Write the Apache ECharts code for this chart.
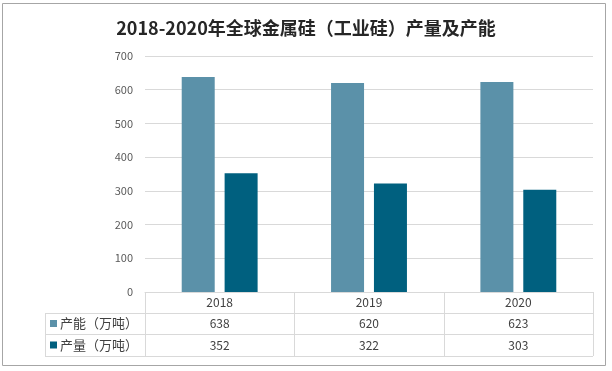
<!DOCTYPE html>
<html>
<head>
<meta charset="utf-8">
<script src="https://cdn.jsdelivr.net/npm/echarts@6/dist/echarts.min.js"></script>
<style>
html,body{margin:0;padding:0;background:#fff;}
#main{width:612px;height:371px;}
</style>
</head>
<body>
<div id="main"></div>
<script>
var titleText = '2018-2020年全球金属硅（工业硅）产量及产能';
var categories = ['2018', '2019', '2020'];
var seriesNames = ['产能（万吨）', '产量（万吨）'];
var capacity = [638, 620, 623];
var production = [352, 322, 303];
var yTicks = [0, 100, 200, 300, 400, 500, 600, 700];

var colors = ['#5B91A9', '#00607F'];
var font = '"Noto Sans CJK SC", "Noto Sans", sans-serif';
var G = {left: 145, right: 19, top: 56, bottom: 79};
var W = 612, H = 371;
var plotW = W - G.left - G.right;
var colW = plotW / categories.length;
var axisY = H - G.bottom;
var rowTops = [axisY, 313, 334, 356];
var tableLeft = 45;
var lineColor = '#d9d9d9';

var chart = echarts.init(document.getElementById('main'), null, {renderer: 'canvas'});

var graphics = [];
graphics.push({type: 'rect', shape: {x: 2.5, y: 3.5, width: 603, height: 362}, style: {fill: null, stroke: '#a6a6a6', lineWidth: 1}, silent: true});
graphics.push({type: 'line', shape: {x1: tableLeft, y1: rowTops[1] + 0.5, x2: W - G.right, y2: rowTops[1] + 0.5}, style: {stroke: lineColor, lineWidth: 1}});
graphics.push({type: 'line', shape: {x1: tableLeft, y1: rowTops[2] + 0.5, x2: W - G.right, y2: rowTops[2] + 0.5}, style: {stroke: lineColor, lineWidth: 1}});
graphics.push({type: 'line', shape: {x1: tableLeft, y1: rowTops[3] + 0.5, x2: W - G.right, y2: rowTops[3] + 0.5}, style: {stroke: lineColor, lineWidth: 1}});
graphics.push({type: 'line', shape: {x1: tableLeft + 0.5, y1: rowTops[1], x2: tableLeft + 0.5, y2: rowTops[3]}, style: {stroke: lineColor, lineWidth: 1}});
for (var i = 0; i <= categories.length; i++) {
  var x = Math.round(G.left + i * colW) + 0.5;
  graphics.push({type: 'line', shape: {x1: x, y1: axisY, x2: x, y2: rowTops[3]}, style: {stroke: lineColor, lineWidth: 1}});
}
var rows = [capacity, production];
for (var r = 0; r < rows.length; r++) {
  var cy = (rowTops[r + 1] + rowTops[r + 2]) / 2;
  graphics.push({type: 'rect', shape: {x: 50, y: cy - 3.5, width: 7, height: 7}, style: {fill: colors[r]}});
  graphics.push({type: 'text', x: 60, y: cy, style: {text: seriesNames[r], font: '13px ' + font, fill: '#404040', textAlign: 'left', textVerticalAlign: 'middle'}});
  for (var c = 0; c < categories.length; c++) {
    graphics.push({type: 'text', x: G.left + (c + 0.5) * colW, y: cy, style: {text: String(rows[r][c]), font: '12px ' + font, fill: '#404040', textAlign: 'center', textVerticalAlign: 'middle'}});
  }
}

chart.setOption({
  animation: false,
  backgroundColor: '#fff',
  title: {
    text: titleText, left: 'center', top: 14,
    textStyle: {fontFamily: font, fontSize: 18, fontWeight: 'bold', color: '#262626'}
  },
  grid: {left: G.left, right: G.right, top: G.top, bottom: G.bottom, containLabel: false},
  xAxis: {
    type: 'category', data: categories,
    axisLine: {show: true, lineStyle: {color: lineColor}},
    axisTick: {show: false},
    axisLabel: {margin: 4, fontSize: 12, color: '#404040', fontFamily: font}
  },
  yAxis: {
    type: 'value', min: yTicks[0], max: yTicks[yTicks.length - 1], interval: 100,
    axisLine: {show: false}, axisTick: {show: false},
    axisLabel: {margin: 12, fontSize: 11, color: '#595959', fontFamily: font},
    splitLine: {lineStyle: {color: lineColor}}
  },
  series: [
    {name: seriesNames[0], type: 'bar', data: capacity, barWidth: 33, barGap: '30%', itemStyle: {color: colors[0]}},
    {name: seriesNames[1], type: 'bar', data: production, barWidth: 33, barGap: '30%', itemStyle: {color: colors[1]}}
  ],
  graphic: graphics
});
</script>
</body>
</html>
